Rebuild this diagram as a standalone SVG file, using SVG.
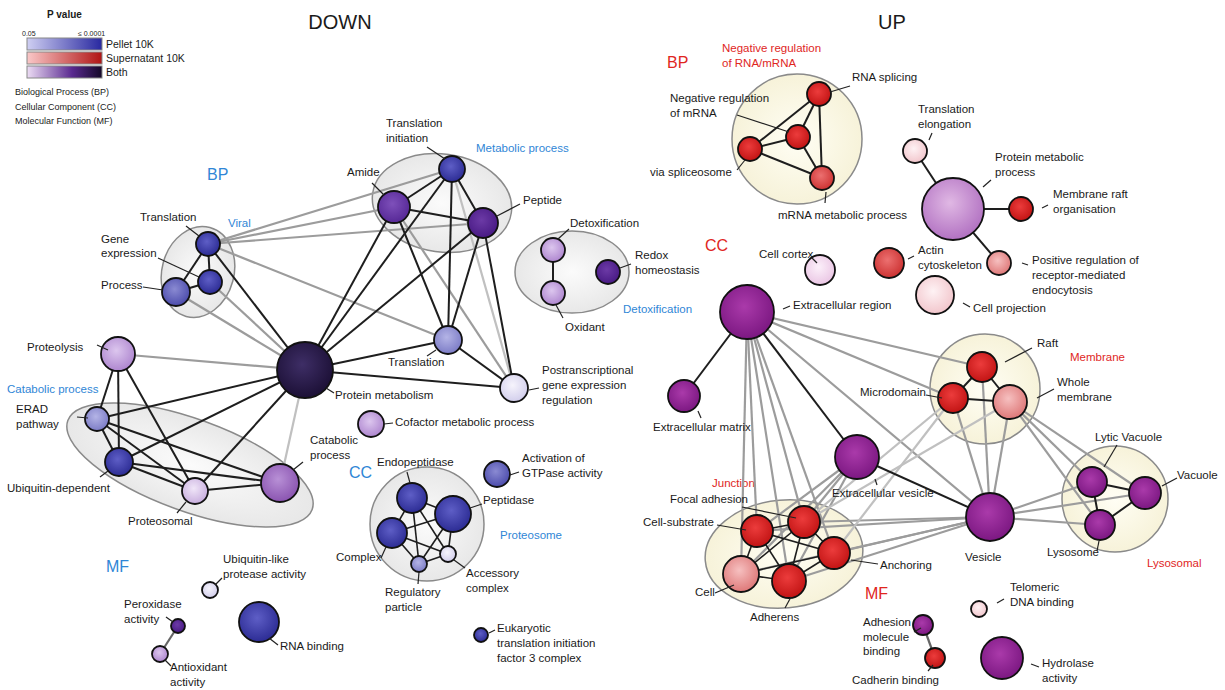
<svg xmlns="http://www.w3.org/2000/svg" width="1225" height="690" viewBox="0 0 1225 690">
<defs>
<radialGradient id="gBlue" cx="45%" cy="40%" r="60%"><stop offset="0" stop-color="#5e5ec6"/><stop offset="1" stop-color="#2c2c94"/></radialGradient>
<radialGradient id="gBlueMid" cx="45%" cy="40%" r="60%"><stop offset="0" stop-color="#8a8ad2"/><stop offset="1" stop-color="#4c4cac"/></radialGradient>
<radialGradient id="gBlueLight" cx="45%" cy="40%" r="60%"><stop offset="0" stop-color="#b4b4e6"/><stop offset="1" stop-color="#7c7cc6"/></radialGradient>
<radialGradient id="gLav" cx="45%" cy="40%" r="60%"><stop offset="0" stop-color="#f6f4fc"/><stop offset="1" stop-color="#d2ceec"/></radialGradient>
<radialGradient id="gPurple" cx="45%" cy="40%" r="60%"><stop offset="0" stop-color="#7e50ba"/><stop offset="1" stop-color="#562896"/></radialGradient>
<radialGradient id="gPurpleDk" cx="45%" cy="40%" r="60%"><stop offset="0" stop-color="#6c3aa6"/><stop offset="1" stop-color="#481a84"/></radialGradient>
<radialGradient id="gPurpleLt" cx="45%" cy="40%" r="60%"><stop offset="0" stop-color="#dcc6ee"/><stop offset="1" stop-color="#ae86cf"/></radialGradient>
<radialGradient id="gPurpleMd" cx="45%" cy="40%" r="60%"><stop offset="0" stop-color="#b890d6"/><stop offset="1" stop-color="#8a54b0"/></radialGradient>
<radialGradient id="gLavP" cx="45%" cy="40%" r="60%"><stop offset="0" stop-color="#f0e6f8"/><stop offset="1" stop-color="#c8aede"/></radialGradient>
<radialGradient id="gDark" cx="45%" cy="40%" r="60%"><stop offset="0" stop-color="#3e2e66"/><stop offset="1" stop-color="#1c1036"/></radialGradient>
<radialGradient id="gRed" cx="45%" cy="40%" r="60%"><stop offset="0" stop-color="#ec3c3c"/><stop offset="1" stop-color="#c21414"/></radialGradient>
<radialGradient id="gRedMd" cx="45%" cy="40%" r="60%"><stop offset="0" stop-color="#ec7070"/><stop offset="1" stop-color="#cc3232"/></radialGradient>
<radialGradient id="gRedLt" cx="45%" cy="40%" r="60%"><stop offset="0" stop-color="#f6c0c0"/><stop offset="1" stop-color="#de7878"/></radialGradient>
<radialGradient id="gPink" cx="45%" cy="40%" r="60%"><stop offset="0" stop-color="#fef2f4"/><stop offset="1" stop-color="#f2c6cc"/></radialGradient>
<radialGradient id="gPinkLav" cx="45%" cy="40%" r="60%"><stop offset="0" stop-color="#fcf0fa"/><stop offset="1" stop-color="#eac6e4"/></radialGradient>
<radialGradient id="gMag" cx="45%" cy="40%" r="60%"><stop offset="0" stop-color="#aa3aaa"/><stop offset="1" stop-color="#7c1882"/></radialGradient>
<radialGradient id="gMagLt" cx="45%" cy="40%" r="60%"><stop offset="0" stop-color="#e0b8e4"/><stop offset="1" stop-color="#b272c2"/></radialGradient>
<radialGradient id="gClL" cx="50%" cy="50%" r="60%"><stop offset="0" stop-color="#fbfbfb"/><stop offset="1" stop-color="#e4e4e4"/></radialGradient>
<radialGradient id="gClR" cx="50%" cy="50%" r="60%"><stop offset="0" stop-color="#fffef4"/><stop offset="1" stop-color="#f5f0d4"/></radialGradient>
<linearGradient id="lgBlue" x1="0" y1="0" x2="1" y2="0"><stop offset="0" stop-color="#cfcff2"/><stop offset="1" stop-color="#2828a0"/></linearGradient>
<linearGradient id="lgRed" x1="0" y1="0" x2="1" y2="0"><stop offset="0" stop-color="#fac8c8"/><stop offset="1" stop-color="#b01414"/></linearGradient>
<linearGradient id="lgBoth" x1="0" y1="0" x2="1" y2="0"><stop offset="0" stop-color="#ecdcf4"/><stop offset="0.6" stop-color="#5a2a90"/><stop offset="1" stop-color="#140828"/></linearGradient>
<style>
text{font-family:"Liberation Sans",Arial,sans-serif;fill:#1a1a1a;}
.lb{font-size:11.5px;}
.lg{font-size:9px;}
.lgb{font-size:10.5px;}
.tt{font-size:20px;}
.hb{font-size:16px;fill:#2f86d6;}
.hr{font-size:16px;fill:#e0261e;}
.gb{font-size:11.5px;fill:#2f86d6;}
.gr{font-size:11.5px;fill:#e0261e;}
.n{stroke:#111;stroke-width:1.8;}
.ld{stroke:#222;stroke-width:1.2;fill:none;}
.cl{fill:url(#gClL);stroke:#8a8a8a;stroke-width:1.5;}
.cr{fill:url(#gClR);stroke:#8a8a8a;stroke-width:1.5;}
.ed{stroke:#1e1e1e;stroke-width:2;}
.eg{stroke:#9c9c9c;stroke-width:2.2;}
.el{stroke:#c0c0c0;stroke-width:2.2;}
.bar{stroke:#888;stroke-width:1;}
</style>
</defs>
<rect width="1225" height="690" fill="#ffffff"/>

<g id="legend">
<text x="47" y="18" style="font-size:10px;font-weight:bold">P value</text>
<text x="22" y="36" style="font-size:7px">0.05</text>
<text x="78" y="36" style="font-size:7px">≤ 0.0001</text>
<rect class="bar" x="27" y="38" width="75" height="12" fill="url(#lgBlue)"/>
<rect class="bar" x="27" y="52" width="75" height="12" fill="url(#lgRed)"/>
<rect class="bar" x="27" y="66" width="75" height="12" fill="url(#lgBoth)"/>
<text class="lgb" x="106" y="48">Pellet 10K</text>
<text class="lgb" x="106" y="62">Supernatant 10K</text>
<text class="lgb" x="106" y="76">Both</text>
<text class="lg" x="15" y="95">Biological Process (BP)</text>
<text class="lg" x="15" y="110">Cellular Component (CC)</text>
<text class="lg" x="15" y="124">Molecular Function (MF)</text>
</g>

<g id="titles">
<text class="tt" x="340" y="29" text-anchor="middle">DOWN</text>
<text class="tt" x="892" y="29" text-anchor="middle">UP</text>
<text class="hb" x="207" y="180">BP</text>
<text class="hb" x="349" y="478">CC</text>
<text class="hb" x="106" y="572">MF</text>
<text class="hr" x="667" y="68">BP</text>
<text class="hr" x="705" y="251">CC</text>
<text class="hr" x="865" y="599">MF</text>
</g>

<g id="clusters">
<ellipse class="cl" cx="198" cy="272" rx="36" ry="46" transform="rotate(15 198 272)"/>
<ellipse class="cl" cx="442" cy="203" rx="70" ry="49" transform="rotate(8 442 203)"/>
<ellipse class="cl" cx="572" cy="272" rx="57" ry="41"/>
<ellipse class="cl" cx="190" cy="465" rx="130" ry="46" transform="rotate(20 190 465)"/>
<circle class="cl" cx="427" cy="524" r="57"/>
<circle class="cr" cx="797" cy="139" r="65"/>
<circle class="cr" cx="985" cy="389" r="55"/>
<circle class="cr" cx="1115" cy="499" r="53"/>
<ellipse class="cr" cx="784" cy="554" rx="79" ry="54" transform="rotate(-5 784 554)"/>
<text class="gb" x="228" y="227">Viral</text>
<text class="gb" x="476" y="152">Metabolic process</text>
<text class="gb" x="623" y="313">Detoxification</text>
<text class="gb" x="7" y="393">Catabolic process</text>
<text class="gb" x="500" y="539">Proteosome</text>
<text class="gr" x="722" y="52">Negative regulation</text>
<text class="gr" x="722" y="67">of RNA/mRNA</text>
<text class="gr" x="1070" y="361">Membrane</text>
<text class="gr" x="1147" y="567">Lysosomal</text>
<text class="gr" x="712" y="487">Junction</text>
</g>

<g id="connectors">
<!-- DOWN gray -->
<line class="eg" x1="208" y1="244" x2="394" y2="207"/>
<line class="eg" x1="208" y1="244" x2="452" y2="169"/>
<line class="eg" x1="208" y1="244" x2="483" y2="223"/>
<line class="eg" x1="208" y1="244" x2="448" y2="340"/>
<line class="eg" x1="210" y1="282" x2="305" y2="370"/>
<line class="eg" x1="176" y1="292" x2="305" y2="370"/>
<line class="eg" x1="118" y1="354" x2="305" y2="370"/>
<line class="el" x1="280" y1="483" x2="305" y2="370"/>
<line class="el" x1="452" y1="169" x2="514" y2="388"/>
<line class="eg" x1="394" y1="207" x2="514" y2="388"/>
<!-- DOWN dark -->
<line class="ed" x1="208" y1="244" x2="210" y2="282"/>
<line class="ed" x1="208" y1="244" x2="176" y2="292"/>
<line class="ed" x1="210" y1="282" x2="176" y2="292"/>
<line class="ed" x1="208" y1="244" x2="305" y2="370"/>
<line class="ed" x1="452" y1="169" x2="394" y2="207"/>
<line class="ed" x1="452" y1="169" x2="483" y2="223"/>
<line class="ed" x1="394" y1="207" x2="483" y2="223"/>
<line class="ed" x1="394" y1="207" x2="305" y2="370"/>
<line class="ed" x1="452" y1="169" x2="305" y2="370"/>
<line class="ed" x1="483" y1="223" x2="305" y2="370"/>
<line class="ed" x1="452" y1="169" x2="448" y2="340"/>
<line class="ed" x1="394" y1="207" x2="448" y2="340"/>
<line class="ed" x1="483" y1="223" x2="448" y2="340"/>
<line class="ed" x1="483" y1="223" x2="514" y2="388"/>
<line class="ed" x1="305" y1="370" x2="448" y2="340"/>
<line class="ed" x1="305" y1="370" x2="514" y2="388"/>
<line class="ed" x1="448" y1="340" x2="514" y2="388"/>
<line class="ed" x1="553" y1="250" x2="553" y2="293"/>
<line class="ed" x1="118" y1="354" x2="97" y2="419"/>
<line class="ed" x1="118" y1="354" x2="119" y2="462"/>
<line class="ed" x1="118" y1="354" x2="195" y2="491"/>
<line class="ed" x1="97" y1="419" x2="119" y2="462"/>
<line class="ed" x1="97" y1="419" x2="195" y2="491"/>
<line class="ed" x1="97" y1="419" x2="280" y2="483"/>
<line class="ed" x1="119" y1="462" x2="195" y2="491"/>
<line class="ed" x1="119" y1="462" x2="280" y2="483"/>
<line class="ed" x1="195" y1="491" x2="280" y2="483"/>
<line class="ed" x1="97" y1="419" x2="305" y2="370"/>
<line class="ed" x1="119" y1="462" x2="305" y2="370"/>
<line class="ed" x1="195" y1="491" x2="305" y2="370"/>
<line class="ed" style="stroke-width:1.6" x1="412" y1="498" x2="453" y2="514"/>
<line class="ed" style="stroke-width:1.6" x1="412" y1="498" x2="392" y2="533"/>
<line class="ed" style="stroke-width:1.6" x1="412" y1="498" x2="419" y2="564"/>
<line class="ed" style="stroke-width:1.6" x1="412" y1="498" x2="448" y2="554"/>
<line class="ed" style="stroke-width:1.6" x1="453" y1="514" x2="392" y2="533"/>
<line class="ed" style="stroke-width:1.6" x1="453" y1="514" x2="419" y2="564"/>
<line class="ed" style="stroke-width:1.6" x1="453" y1="514" x2="448" y2="554"/>
<line class="ed" style="stroke-width:1.6" x1="392" y1="533" x2="419" y2="564"/>
<line class="ed" style="stroke-width:1.6" x1="392" y1="533" x2="448" y2="554"/>
<line class="ed" style="stroke-width:1.6" x1="419" y1="564" x2="448" y2="554"/>
<line class="eg" style="stroke:#666" x1="178" y1="626" x2="160" y2="654"/>
<!-- UP gray -->
<line class="eg" x1="747" y1="312" x2="982" y2="367"/>
<line class="eg" x1="747" y1="312" x2="953" y2="398"/>
<line class="eg" x1="747" y1="312" x2="990" y2="517"/>
<line class="eg" x1="747" y1="312" x2="757" y2="531"/>
<line class="eg" x1="747" y1="312" x2="804" y2="522"/>
<line class="eg" x1="747" y1="312" x2="741" y2="574"/>
<line class="eg" x1="747" y1="312" x2="789" y2="581"/>
<line class="eg" x1="747" y1="312" x2="834" y2="553"/>
<line class="eg" x1="857" y1="457" x2="757" y2="531"/>
<line class="eg" x1="857" y1="457" x2="804" y2="522"/>
<line class="eg" x1="857" y1="457" x2="741" y2="574"/>
<line class="eg" x1="857" y1="457" x2="789" y2="581"/>
<line class="eg" x1="990" y1="517" x2="982" y2="367"/>
<line class="eg" x1="990" y1="517" x2="953" y2="398"/>
<line class="eg" x1="990" y1="517" x2="1010" y2="402"/>
<line class="eg" x1="990" y1="517" x2="1092" y2="482"/>
<line class="eg" x1="990" y1="517" x2="1145" y2="493"/>
<line class="eg" x1="990" y1="517" x2="1100" y2="525"/>
<line class="eg" x1="1010" y1="402" x2="1092" y2="482"/>
<line class="eg" x1="1010" y1="402" x2="1145" y2="493"/>
<line class="eg" x1="1010" y1="402" x2="1100" y2="525"/>
<line class="eg" x1="990" y1="517" x2="757" y2="531"/>
<line class="eg" x1="990" y1="517" x2="804" y2="522"/>
<line class="eg" x1="990" y1="517" x2="834" y2="553"/>
<line class="eg" x1="990" y1="517" x2="741" y2="574"/>
<line class="eg" x1="990" y1="517" x2="789" y2="581"/>
<line class="el" x1="953" y1="398" x2="804" y2="522"/>
<line class="el" x1="953" y1="398" x2="834" y2="553"/>
<line class="el" x1="1010" y1="402" x2="804" y2="522"/>
<!-- UP dark -->
<line class="ed" x1="819" y1="94" x2="798" y2="137"/>
<line class="ed" x1="819" y1="94" x2="750" y2="149"/>
<line class="ed" x1="819" y1="94" x2="822" y2="178"/>
<line class="ed" x1="798" y1="137" x2="750" y2="149"/>
<line class="ed" x1="798" y1="137" x2="822" y2="178"/>
<line class="ed" x1="750" y1="149" x2="822" y2="178"/>
<line class="ed" x1="953" y1="209" x2="915" y2="151"/>
<line class="ed" x1="953" y1="209" x2="1021" y2="209"/>
<line class="ed" x1="953" y1="209" x2="999" y2="263"/>
<line class="ed" x1="747" y1="312" x2="684" y2="396"/>
<line class="ed" x1="747" y1="312" x2="857" y2="457"/>
<line class="ed" x1="857" y1="457" x2="990" y2="517"/>
<line class="ed" x1="982" y1="367" x2="953" y2="398"/>
<line class="ed" x1="982" y1="367" x2="1010" y2="402"/>
<line class="ed" x1="953" y1="398" x2="1010" y2="402"/>
<line class="ed" x1="1092" y1="482" x2="1145" y2="493"/>
<line class="ed" x1="1092" y1="482" x2="1100" y2="525"/>
<line class="ed" x1="1145" y1="493" x2="1100" y2="525"/>
<line class="ed" style="stroke-width:1.6" x1="757" y1="531" x2="804" y2="522"/>
<line class="ed" style="stroke-width:1.6" x1="757" y1="531" x2="834" y2="553"/>
<line class="ed" style="stroke-width:1.6" x1="757" y1="531" x2="741" y2="574"/>
<line class="ed" style="stroke-width:1.6" x1="757" y1="531" x2="789" y2="581"/>
<line class="ed" style="stroke-width:1.6" x1="804" y1="522" x2="834" y2="553"/>
<line class="ed" style="stroke-width:1.6" x1="804" y1="522" x2="741" y2="574"/>
<line class="ed" style="stroke-width:1.6" x1="804" y1="522" x2="789" y2="581"/>
<line class="ed" style="stroke-width:1.6" x1="834" y1="553" x2="741" y2="574"/>
<line class="ed" style="stroke-width:1.6" x1="834" y1="553" x2="789" y2="581"/>
<line class="ed" style="stroke-width:1.6" x1="741" y1="574" x2="789" y2="581"/>
<line class="eg" style="stroke:#666" x1="923" y1="625" x2="935" y2="658"/>
</g>

<!-- DOWN nodes -->
<g id="n-viral-translation"><circle class="n" cx="208" cy="244" r="12" fill="url(#gBlue)"/><line class="ld" x1="186" y1="226" x2="199" y2="236"/><text class="lb" x="140" y="221">Translation</text></g>
<g id="n-gene-expression"><circle class="n" cx="210" cy="282" r="12" fill="url(#gBlue)"/><line class="ld" x1="158" y1="258" x2="199" y2="277"/><text class="lb" x="101" y="243">Gene</text><text class="lb" x="101" y="257">expression</text></g>
<g id="n-process"><circle class="n" cx="176" cy="292" r="14" fill="url(#gBlueMid)"/><line class="ld" x1="143" y1="287" x2="163" y2="290"/><text class="lb" x="101" y="289">Process</text></g>
<g id="n-translation-initiation"><circle class="n" cx="452" cy="169" r="13" fill="url(#gBlue)"/><line class="ld" x1="427" y1="147" x2="445" y2="159"/><text class="lb" x="386" y="127">Translation</text><text class="lb" x="386" y="142">initiation</text></g>
<g id="n-amide"><circle class="n" cx="394" cy="207" r="16" fill="url(#gPurple)"/><line class="ld" x1="372" y1="183" x2="384" y2="195"/><text class="lb" x="347" y="176">Amide</text></g>
<g id="n-peptide"><circle class="n" cx="483" cy="223" r="15" fill="url(#gPurpleDk)"/><line class="ld" x1="520" y1="204" x2="497" y2="216"/><text class="lb" x="523" y="204">Peptide</text></g>
<g id="n-detoxification"><circle class="n" cx="553" cy="250" r="12" fill="url(#gPurpleLt)"/><line class="ld" x1="569" y1="229" x2="558" y2="239"/><text class="lb" x="570" y="227">Detoxification</text></g>
<g id="n-oxidant"><circle class="n" cx="553" cy="293" r="12" fill="url(#gPurpleLt)"/><line class="ld" x1="556" y1="305" x2="563" y2="318"/><text class="lb" x="565" y="331">Oxidant</text></g>
<g id="n-redox"><circle class="n" cx="608" cy="272" r="12" fill="url(#gPurpleDk)"/><line class="ld" x1="631" y1="264" x2="620" y2="268"/><text class="lb" x="635" y="259">Redox</text><text class="lb" x="635" y="274">homeostasis</text></g>
<g id="n-protein-metabolism"><circle class="n" cx="305" cy="370" r="28" fill="url(#gDark)"/><line class="ld" x1="326" y1="388" x2="334" y2="393"/><text class="lb" x="335" y="399">Protein metabolism</text></g>
<g id="n-translation"><circle class="n" cx="448" cy="340" r="14" fill="url(#gBlueLight)"/><line class="ld" x1="427" y1="356" x2="436" y2="350"/><text class="lb" x="388" y="366">Translation</text></g>
<g id="n-postranscriptional"><circle class="n" cx="514" cy="388" r="14" fill="url(#gLav)"/><line class="ld" x1="529" y1="390" x2="539" y2="388"/><text class="lb" x="542" y="374">Postranscriptional</text><text class="lb" x="542" y="389">gene expression</text><text class="lb" x="542" y="404">regulation</text></g>
<g id="n-cofactor"><circle class="n" cx="371" cy="424" r="13" fill="url(#gPurpleLt)"/><line class="ld" x1="384" y1="424" x2="393" y2="423"/><text class="lb" x="395" y="426">Cofactor metabolic process</text></g>
<g id="n-catabolic"><circle class="n" cx="280" cy="483" r="19" fill="url(#gPurpleMd)"/><line class="ld" x1="303" y1="462" x2="293" y2="470"/><text class="lb" x="310" y="444">Catabolic</text><text class="lb" x="310" y="459">process</text></g>
<g id="n-proteolysis"><circle class="n" cx="118" cy="354" r="17" fill="url(#gPurpleLt)"/><line class="ld" x1="97" y1="345" x2="108" y2="350"/><text class="lb" x="27" y="351">Proteolysis</text></g>
<g id="n-erad"><circle class="n" cx="97" cy="419" r="12" fill="url(#gBlueLight)"/><line class="ld" x1="77" y1="417" x2="88" y2="418"/><text class="lb" x="16" y="413">ERAD</text><text class="lb" x="16" y="428">pathway</text></g>
<g id="n-ubiquitin"><circle class="n" cx="119" cy="462" r="14" fill="url(#gBlue)"/><line class="ld" x1="100" y1="477" x2="108" y2="471"/><text class="lb" x="7" y="492">Ubiquitin-dependent</text></g>
<g id="n-proteosomal"><circle class="n" cx="195" cy="491" r="13" fill="url(#gLavP)"/><line class="ld" x1="177" y1="513" x2="186" y2="502"/><text class="lb" x="128" y="525">Proteosomal</text></g>
<g id="n-gtpase"><circle class="n" cx="497" cy="474" r="13" fill="url(#gBlueMid)"/><line class="ld" x1="519" y1="472" x2="510" y2="475"/><text class="lb" x="522" y="462">Activation of</text><text class="lb" x="522" y="477">GTPase activity</text></g>
<g id="n-endopeptidase"><circle class="n" cx="412" cy="498" r="15" fill="url(#gBlue)"/><line class="ld" x1="407" y1="472" x2="410" y2="483"/><text class="lb" x="377" y="466">Endopeptidase</text></g>
<g id="n-peptidase"><circle class="n" cx="453" cy="514" r="18" fill="url(#gBlue)"/><line class="ld" x1="482" y1="504" x2="470" y2="508"/><text class="lb" x="483" y="504">Peptidase</text></g>
<g id="n-complex"><circle class="n" cx="392" cy="533" r="15" fill="url(#gBlue)"/><line class="ld" x1="381" y1="558" x2="386" y2="547"/><text class="lb" x="336" y="561">Complex</text></g>
<g id="n-regulatory"><circle class="n" cx="419" cy="564" r="8" fill="url(#gBlueLight)"/><line class="ld" x1="419" y1="572" x2="418" y2="584"/><text class="lb" x="385" y="596">Regulatory</text><text class="lb" x="385" y="611">particle</text></g>
<g id="n-accessory"><circle class="n" cx="448" cy="554" r="8" fill="url(#gLav)"/><line class="ld" x1="465" y1="568" x2="454" y2="560"/><text class="lb" x="466" y="577">Accessory</text><text class="lb" x="466" y="592">complex</text></g>
<g id="n-ubiquitin-like"><circle class="n" cx="210" cy="590" r="8" fill="url(#gLav)"/><line class="ld" x1="222" y1="578" x2="215" y2="585"/><text class="lb" x="223" y="563">Ubiquitin-like</text><text class="lb" x="223" y="578">protease activity</text></g>
<g id="n-peroxidase"><circle class="n" cx="178" cy="626" r="7" fill="url(#gPurpleDk)"/><line class="ld" x1="166" y1="617" x2="173" y2="622"/><text class="lb" x="124" y="608">Peroxidase</text><text class="lb" x="124" y="623">activity</text></g>
<g id="n-antioxidant"><circle class="n" cx="160" cy="654" r="8" fill="url(#gPurpleLt)"/><line class="ld" x1="165" y1="660" x2="171" y2="666"/><text class="lb" x="170" y="671">Antioxidant</text><text class="lb" x="170" y="686">activity</text></g>
<g id="n-rna-binding"><circle class="n" cx="259" cy="622" r="20" fill="url(#gBlue)"/><line class="ld" x1="269" y1="638" x2="278" y2="645"/><text class="lb" x="280" y="650">RNA binding</text></g>
<g id="n-eukaryotic"><circle class="n" cx="481" cy="635" r="7" fill="url(#gBlue)"/><line class="ld" x1="489" y1="633" x2="495" y2="630"/><text class="lb" x="497" y="632">Eukaryotic</text><text class="lb" x="497" y="647">translation initiation</text><text class="lb" x="497" y="662">factor 3 complex</text></g>

<!-- UP nodes -->
<g id="n-rna-splicing"><circle class="n" cx="819" cy="94" r="12" fill="url(#gRed)"/><line class="ld" x1="850" y1="86" x2="830" y2="92"/><text class="lb" x="852" y="81">RNA splicing</text></g>
<g id="n-neg-reg-mrna"><circle class="n" cx="798" cy="137" r="12" fill="url(#gRed)"/><line class="ld" x1="737" y1="115" x2="789" y2="132"/><text class="lb" x="670" y="102">Negative regulation</text><text class="lb" x="670" y="117">of mRNA</text></g>
<g id="n-via-spliceosome"><circle class="n" cx="750" cy="149" r="12" fill="url(#gRed)"/><line class="ld" x1="737" y1="170" x2="745" y2="160"/><text class="lb" x="650" y="176">via spliceosome</text></g>
<g id="n-mrna-metabolic"><circle class="n" cx="822" cy="178" r="12" fill="url(#gRedMd)"/><line class="ld" x1="825" y1="203" x2="826" y2="192"/><text class="lb" x="778" y="219">mRNA metabolic process</text></g>
<g id="n-translation-elongation"><circle class="n" cx="915" cy="151" r="12" fill="url(#gPink)"/><line class="ld" x1="932" y1="133" x2="929" y2="140"/><text class="lb" x="918" y="113">Translation</text><text class="lb" x="918" y="128">elongation</text></g>
<g id="n-protein-metabolic-process"><circle class="n" cx="953" cy="209" r="31" fill="url(#gMagLt)"/><line class="ld" x1="991" y1="180" x2="983" y2="187"/><text class="lb" x="995" y="161">Protein metabolic</text><text class="lb" x="995" y="176">process</text></g>
<g id="n-membrane-raft-org"><circle class="n" cx="1021" cy="209" r="12" fill="url(#gRed)"/><line class="ld" x1="1048" y1="205" x2="1042" y2="208"/><text class="lb" x="1053" y="198">Membrane raft</text><text class="lb" x="1053" y="213">organisation</text></g>
<g id="n-positive-regulation"><circle class="n" cx="999" cy="263" r="12" fill="url(#gRedLt)"/><line class="ld" x1="1028" y1="265" x2="1022" y2="263"/><text class="lb" x="1032" y="264">Positive regulation of</text><text class="lb" x="1032" y="279">receptor-mediated</text><text class="lb" x="1032" y="294">endocytosis</text></g>
<g id="n-actin-cytoskeleton"><circle class="n" cx="889" cy="263" r="15" fill="url(#gRedMd)"/><line class="ld" x1="914" y1="256" x2="908" y2="259"/><text class="lb" x="918" y="254">Actin</text><text class="lb" x="918" y="269">cytoskeleton</text></g>
<g id="n-cell-projection"><circle class="n" cx="935" cy="295" r="19" fill="url(#gPink)"/><line class="ld" x1="963" y1="303" x2="970" y2="307"/><text class="lb" x="973" y="312">Cell projection</text></g>
<g id="n-cell-cortex"><circle class="n" cx="820" cy="270" r="15" fill="url(#gPinkLav)"/><line class="ld" x1="812" y1="258" x2="817" y2="263"/><text class="lb" x="759" y="258">Cell cortex</text></g>
<g id="n-extracellular-region"><circle class="n" cx="747" cy="312" r="27" fill="url(#gMag)"/><line class="ld" x1="783" y1="309" x2="790" y2="306"/><text class="lb" x="793" y="309">Extracellular region</text></g>
<g id="n-extracellular-matrix"><circle class="n" cx="684" cy="396" r="16" fill="url(#gMag)"/><line class="ld" x1="698" y1="411" x2="701" y2="418"/><text class="lb" x="653" y="431">Extracellular matrix</text></g>
<g id="n-extracellular-vesicle"><circle class="n" cx="857" cy="457" r="22" fill="url(#gMag)"/><line class="ld" x1="875" y1="479" x2="877" y2="485"/><text class="lb" x="832" y="497">Extracellular vesicle</text></g>
<g id="n-raft"><circle class="n" cx="982" cy="367" r="15" fill="url(#gRed)"/><line class="ld" x1="1032" y1="348" x2="1005" y2="362"/><text class="lb" x="1037" y="347">Raft</text></g>
<g id="n-microdomain"><circle class="n" cx="953" cy="398" r="15" fill="url(#gRed)"/><line class="ld" x1="926" y1="395" x2="942" y2="398"/><text class="lb" x="860" y="396">Microdomain</text></g>
<g id="n-whole-membrane"><circle class="n" cx="1010" cy="402" r="17" fill="url(#gRedLt)"/><line class="ld" x1="1054" y1="389" x2="1037" y2="398"/><text class="lb" x="1057" y="386">Whole</text><text class="lb" x="1057" y="401">membrane</text></g>
<g id="n-vesicle"><circle class="n" cx="990" cy="517" r="24" fill="url(#gMag)"/><text class="lb" x="965" y="561">Vesicle</text></g>
<g id="n-lytic-vacuole"><circle class="n" cx="1092" cy="482" r="15" fill="url(#gMag)"/><line class="ld" x1="1117" y1="445" x2="1104" y2="467"/><text class="lb" x="1095" y="441">Lytic Vacuole</text></g>
<g id="n-vacuole"><circle class="n" cx="1145" cy="493" r="16" fill="url(#gMag)"/><line class="ld" x1="1177" y1="478" x2="1162" y2="486"/><text class="lb" x="1177" y="479">Vacuole</text></g>
<g id="n-lysosome"><circle class="n" cx="1100" cy="525" r="15" fill="url(#gMag)"/><line class="ld" x1="1097" y1="551" x2="1099" y2="541"/><text class="lb" x="1047" y="556">Lysosome</text></g>
<g id="n-cell-substrate"><circle class="n" cx="757" cy="531" r="16" fill="url(#gRed)"/><line class="ld" x1="717" y1="525" x2="746" y2="530"/><text class="lb" x="643" y="526">Cell-substrate</text></g>
<g id="n-focal-adhesion"><circle class="n" cx="804" cy="522" r="16" fill="url(#gRed)"/><line class="ld" x1="742" y1="507" x2="796" y2="518"/><text class="lb" x="670" y="503">Focal adhesion</text></g>
<g id="n-anchoring"><circle class="n" cx="834" cy="553" r="16" fill="url(#gRed)"/><line class="ld" x1="878" y1="564" x2="851" y2="560"/><text class="lb" x="880" y="569">Anchoring</text></g>
<g id="n-cell"><circle class="n" cx="741" cy="574" r="18" fill="url(#gRedLt)"/><line class="ld" x1="715" y1="593" x2="734" y2="585"/><text class="lb" x="695" y="596">Cell</text></g>
<g id="n-adherens"><circle class="n" cx="789" cy="581" r="17" fill="url(#gRed)"/><line class="ld" x1="785" y1="608" x2="791" y2="597"/><text class="lb" x="750" y="621">Adherens</text></g>
<g id="n-adhesion-molecule"><circle class="n" cx="923" cy="625" r="10" fill="url(#gMag)"/><line class="ld" x1="914" y1="632" x2="921" y2="628"/><text class="lb" x="863" y="626">Adhesion</text><text class="lb" x="863" y="641">molecule</text><text class="lb" x="863" y="655">binding</text></g>
<g id="n-cadherin"><circle class="n" cx="935" cy="658" r="10" fill="url(#gRed)"/><line class="ld" x1="928" y1="671" x2="933" y2="665"/><text class="lb" x="852" y="684">Cadherin binding</text></g>
<g id="n-telomeric"><circle class="n" cx="979" cy="609" r="8" fill="url(#gPink)"/><line class="ld" x1="997" y1="603" x2="1004" y2="599"/><text class="lb" x="1010" y="591">Telomeric</text><text class="lb" x="1010" y="606">DNA binding</text></g>
<g id="n-hydrolase"><circle class="n" cx="1002" cy="658" r="21" fill="url(#gMag)"/><line class="ld" x1="1031" y1="664" x2="1039" y2="667"/><text class="lb" x="1042" y="667">Hydrolase</text><text class="lb" x="1042" y="682">activity</text></g>
</svg>
